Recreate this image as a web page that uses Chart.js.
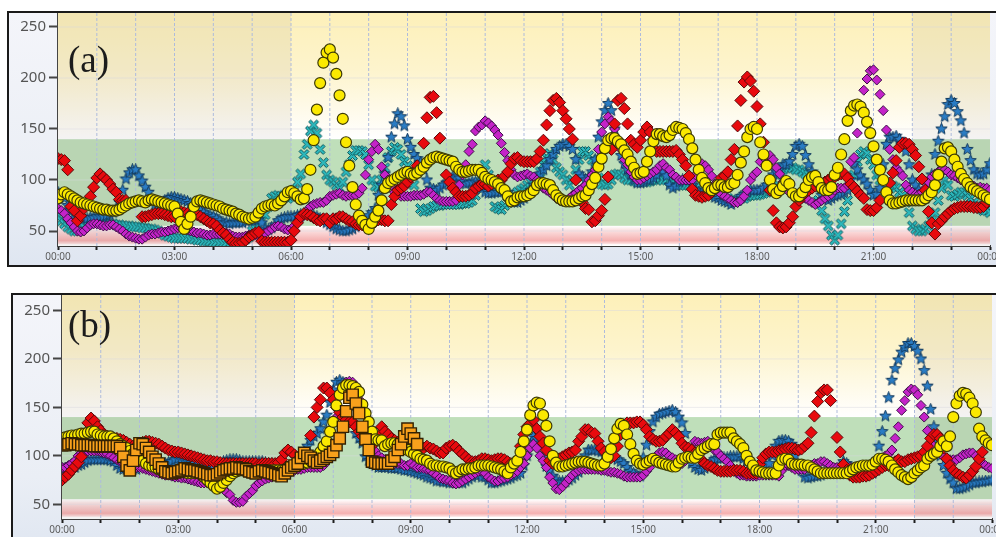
<!DOCTYPE html>
<html>
<head>
<meta charset="utf-8">
<title>Glucose traces</title>
<script src="https://cdn.jsdelivr.net/npm/chart.js@4"></script>
<style>
  html, body { margin: 0; padding: 0; width: 996px; height: 537px; overflow: hidden; background: #fff; }
  .frame { position: absolute; box-sizing: content-box; border: 2px solid #1a1a1a; overflow: hidden;
           background: linear-gradient(180deg, #f4f5fa 0%, #eaeef5 70%, #dfe6f1 100%); }
  #frameA { left: 7px; top: 11px; width: 1010px; height: 252px; }
  #frameB { left: 11px; top: 293px; width: 1006px; height: 260px; }
  canvas { position: absolute; left: 0; top: 0; filter: blur(0.45px); }
  .tag { position: absolute; font-family: "Liberation Serif", serif; font-size: 37px; color: #1c1c1c; line-height: 1; }
  #tagA { left: 68px; top: 41px; }
  #tagB { left: 68px; top: 306px; }
</style>
</head>
<body>
<div class="frame" id="frameA"><canvas id="chartA" width="1010" height="252"></canvas></div>
<div class="frame" id="frameB"><canvas id="chartB" width="1006" height="242"></canvas></div>
<div class="tag" id="tagA">(a)</div>
<div class="tag" id="tagB">(b)</div>
<script>
// one reading every 5 minutes, one row per hour, last value is 24:00
const yTicks = [50, 100, 150, 200, 250];
const xTickLabels = ['00:00', '03:00', '06:00', '09:00', '12:00', '15:00', '18:00', '21:00', '00:00'];
const minutes = Array.from({ length: 289 }, (_, i) => i * 5);

const tealA = [
  65,60,57,54,52,50,50,52,54,56,58,60,
  60,60,59,58,57,57,56,56,55,55,55,54,
  54,54,53,53,52,52,51,50,48,46,45,44,
  43,43,43,43,43,42,42,41,41,40,40,40,
  39,39,38,38,38,37,37,37,38,40,42,44,
  50,52,55,60,66,74,82,84,85,84,83,82,
  84,90,98,106,125,135,148,154,146,130,117,105,
  100,98,95,92,98,108,115,124,129,129,128,125,
  115,100,94,93,100,112,122,128,132,130,125,118,
  114,105,95,85,72,69,70,72,74,75,75,76,
  76,76,76,76,76,77,77,78,80,85,95,105,
  115,105,90,74,72,71,75,78,80,85,88,90,
  92,95,98,100,102,108,115,122,126,120,112,108,
  105,100,95,100,110,120,128,128,124,120,112,102,
  96,95,96,100,105,106,105,102,100,100,99,98,
  98,98,98,99,100,100,102,100,100,99,98,96,
  95,95,95,95,95,92,90,88,88,88,86,85,
  84,83,82,82,80,80,80,82,82,84,85,85,
  85,86,87,88,90,100,105,108,110,112,112,112,
  110,110,108,106,105,100,92,80,70,62,55,46,
  41,46,57,69,80,92,105,118,125,128,126,120,
  115,105,100,98,96,95,94,92,88,85,78,68,
  55,52,50,50,52,55,60,68,80,92,100,95,
  85,84,86,88,88,85,82,78,75,72,70,70,
  68];
const blueA = [
  88,86,82,75,70,66,64,63,62,62,63,63,
  64,64,64,65,66,68,72,78,90,101,107,110,
  110,104,99,93,88,80,76,76,78,80,82,83,
  83,82,81,80,79,77,75,72,70,68,66,65,
  64,62,60,58,58,57,58,58,58,58,60,60,
  60,61,61,58,52,51,53,56,60,62,63,64,
  64,64,65,66,67,67,66,65,64,62,60,58,
  56,54,52,51,50,50,51,52,54,56,58,60,
  65,68,72,85,95,106,122,142,155,165,162,153,
  140,132,125,121,117,110,100,92,91,90,92,95,
  97,100,103,103,102,98,96,97,98,98,97,92,
  88,87,87,88,88,88,90,88,82,78,78,80,
  82,85,90,95,102,106,110,114,120,125,130,133,
  135,135,133,130,120,106,103,100,103,108,120,142,
  157,168,175,168,150,138,124,116,110,105,100,97,
  97,98,100,100,102,105,110,108,104,95,92,94,
  98,100,100,100,95,90,88,87,87,88,85,83,
  82,80,79,78,76,78,80,84,86,88,90,90,
  90,90,92,95,98,105,108,110,115,115,118,125,
  133,135,133,124,115,108,100,95,85,82,80,82,
  84,85,86,88,90,100,116,110,104,100,96,90,
  85,86,92,115,135,142,142,143,140,136,128,115,
  100,95,90,85,82,90,105,125,138,150,162,174,
  178,175,167,158,146,130,119,110,106,105,106,110,
  116];
const purpleA = [
  72,70,67,62,58,54,50,49,50,53,56,57,
  57,56,55,55,56,56,54,52,50,47,45,44,
  43,42,42,44,46,47,47,48,49,49,50,51,
  52,53,53,52,51,50,49,48,48,47,46,46,
  47,47,47,47,48,47,45,44,44,44,45,46,
  47,46,46,47,48,50,52,54,55,54,52,51,
  52,55,58,62,66,70,74,76,77,78,78,80,
  84,85,86,87,85,84,85,85,85,87,92,105,
  120,128,135,130,113,105,100,95,88,86,84,84,
  84,84,85,85,85,86,88,88,85,82,80,79,
  79,79,79,80,95,105,115,128,135,148,152,154,
  158,156,153,149,144,136,127,119,110,105,103,104,
  105,106,104,103,100,95,92,90,88,85,82,80,
  79,79,82,85,87,90,92,95,100,105,110,130,
  147,155,162,158,150,140,130,120,115,108,103,100,
  100,102,104,106,108,110,114,116,112,110,105,103,
  100,100,100,100,100,105,110,116,114,110,104,96,
  90,86,84,82,80,78,78,80,84,90,100,105,
  108,118,122,122,124,120,112,106,98,92,88,85,
  84,83,82,82,80,78,76,78,80,82,84,86,
  90,92,92,92,95,118,122,146,170,188,199,207,
  208,198,184,168,149,130,120,112,108,104,95,90,
  88,86,86,88,92,98,103,106,108,110,110,108,
  105,104,102,100,99,97,95,94,92,93,92,92,
  90];
const redA = [
  121,120,119,110,74,70,60,65,72,78,84,93,
  102,106,103,100,96,91,88,81,80,80,null,null,
  null,null,64,64,65,66,67,67,67,66,65,64,
  64,67,69,68,67,66,66,66,64,62,60,58,
  57,55,51,48,46,42,39,38,38,39,41,44,
  46,48,49,40,39,39,39,39,39,39,39,39,
  41,50,58,64,67,66,65,63,61,60,62,62,
  58,62,62,64,64,62,60,59,57,56,56,56,
  56,58,59,61,61,60,60,76,84,90,92,94,
  98,103,108,114,null,136,161,181,182,166,141,null,
  105,98,92,88,84,84,84,85,87,92,94,96,
  96,94,96,98,100,100,104,108,116,121,122,119,
  118,118,118,118,121,128,139,154,168,178,180,176,
  168,160,150,140,100,null,78,72,71,59,60,65,
  70,81,103,130,155,178,180,170,155,139,135,132,
  139,147,152,147,140,128,128,128,128,128,128,129,
  125,120,114,104,91,85,84,83,84,85,88,92,
  96,102,104,108,120,130,153,178,196,201,197,187,
  172,155,137,115,90,70,58,54,53,54,58,64,
  74,80,85,88,90,92,94,96,96,98,100,102,
  103,105,106,106,102,96,93,89,85,82,71,70,
  70,73,80,null,88,97,107,119,132,136,136,135,
  130,124,113,101,90,69,58,47,57,60,64,67,
  70,72,73,74,74,74,74,73,73,73,74,78,
  80];
const yellowA = [
  82,86,88,86,84,82,80,78,77,76,75,74,
  73,72,71,71,70,70,70,71,73,75,77,78,
  79,80,79,78,80,81,80,79,78,77,76,75,
  74,67,59,52,57,64,74,79,80,79,78,77,
  76,75,74,72,71,70,69,67,66,64,63,62,
  63,64,68,72,74,75,76,75,77,80,84,88,
  89,87,84,81,82,91,110,139,169,195,215,225,
  228,220,204,183,160,137,114,93,76,65,60,56,
  52,58,64,70,80,92,97,99,101,103,105,107,
  108,106,105,107,110,113,117,120,122,123,122,121,
  120,119,118,113,110,108,108,109,110,110,110,107,
  103,101,100,98,96,92,90,84,79,80,83,84,
  84,85,87,90,95,97,97,96,95,90,85,82,
  80,79,79,79,80,82,84,85,90,96,102,113,
  121,131,139,141,141,138,135,129,125,118,112,106,
  107,108,118,128,138,145,145,143,142,144,149,152,
  151,150,146,140,131,120,110,102,97,92,90,92,
  95,95,93,93,96,97,105,117,128,142,150,152,
  150,137,125,114,100,91,87,90,94,99,96,87,
  84,84,88,93,100,103,104,98,92,90,90,93,
  105,112,125,140,158,168,173,174,172,166,157,146,
  133,120,110,100,88,80,77,77,78,79,80,80,
  80,80,80,80,82,85,88,95,105,118,131,132,
  128,120,113,106,101,97,93,91,89,87,85,83,
  81];

const blueB = [
  87,87,87,88,88,90,91,93,95,96,96,96,
  96,96,96,95,94,90,87,86,86,87,86,86,
  88,89,90,90,90,91,92,92,92,93,94,96,
  97,96,95,94,93,92,90,89,88,87,87,88,
  90,92,94,95,96,96,96,95,94,94,94,94,
  94,94,94,93,92,92,91,90,89,88,88,88,
  89,90,96,105,110,116,120,123,128,135,142,155,
  168,176,178,176,175,170,150,123,118,113,99,95,
  92,90,88,88,88,88,87,87,87,86,85,85,
  84,83,82,81,80,78,77,76,74,74,73,73,
  72,72,72,72,72,74,76,78,80,80,78,78,
  75,72,72,73,74,75,76,77,79,80,82,90,
  100,112,120,118,112,100,89,85,79,75,73,73,
  73,75,77,80,83,88,100,106,106,106,105,104,
  100,99,99,98,96,94,92,88,84,82,80,79,
  98,111,125,135,140,143,144,145,146,147,145,140,
  134,123,108,92,88,86,85,87,90,94,96,97,
  97,98,98,99,99,99,99,97,94,90,85,85,
  86,88,89,92,100,110,115,116,116,115,112,100,
  90,85,78,77,78,79,79,80,82,82,82,84,
  86,90,94,92,88,85,83,82,82,82,82,82,
  85,110,125,141,160,178,190,199,207,212,216,216,
  213,208,200,188,172,148,130,117,100,90,82,76,
  72,66,66,67,68,70,72,72,73,73,74,74,
  75];
const purpleB = [
  88,88,90,92,95,100,103,104,105,105,105,105,
  104,103,102,100,98,96,94,92,90,90,90,88,
  88,87,86,85,84,83,82,81,80,80,79,78,
  78,77,77,76,75,74,73,72,72,72,72,72,
  72,70,66,62,60,54,52,52,53,58,61,64,
  69,72,74,76,77,78,79,80,81,82,83,84,
  85,86,86,87,88,88,88,88,88,90,95,100,
  110,140,165,172,176,177,176,172,165,155,145,130,
  110,105,100,98,96,96,94,92,92,92,90,90,
  92,90,88,88,87,86,85,82,80,77,76,75,
  74,72,71,72,74,76,78,80,82,84,84,82,
  78,76,74,74,76,77,78,80,82,84,88,92,
  100,108,112,108,100,95,88,78,72,66,65,68,
  72,76,80,83,85,86,86,86,86,86,86,85,
  85,84,83,83,82,81,79,78,78,78,78,78,
  80,84,88,95,100,103,104,103,100,98,96,92,
  92,95,100,108,115,114,113,114,115,110,106,104,
  100,97,94,90,86,82,80,80,79,79,79,79,
  80,80,80,80,80,80,79,85,90,90,88,86,
  86,86,86,88,90,92,92,94,94,92,90,88,
  88,88,88,88,88,88,87,87,87,88,88,90,
  92,95,98,100,102,106,118,130,147,157,166,169,
  168,163,152,140,126,118,110,106,102,99,97,96,
  96,96,98,101,102,103,103,100,96,92,90,88,
  87];
const redB = [
  75,78,81,85,89,93,99,115,134,139,136,130,
  126,122,120,118,118,118,117,116,114,112,110,110,
  112,114,115,115,114,113,112,110,108,106,105,104,
  104,103,102,101,100,99,98,97,96,95,95,94,
  94,93,92,92,92,92,92,92,92,92,92,92,
  92,91,92,92,92,92,92,93,96,103,106,104,
  101,96,94,95,100,121,140,150,158,170,170,165,
  158,150,145,140,137,135,135,130,125,120,115,112,
  112,114,120,130,125,122,118,116,114,112,111,110,
  109,108,108,108,108,110,108,107,105,103,103,108,
  110,111,109,105,102,99,96,94,94,95,97,97,
  96,95,96,97,97,96,94,92,92,96,110,122,
  130,133,137,128,120,113,106,95,92,92,97,99,
  101,103,104,106,115,120,127,127,124,123,115,108,
  104,100,98,100,110,122,132,134,134,134,135,135,
  132,127,120,117,115,115,116,120,123,127,124,120,
  113,109,108,106,103,100,96,92,90,89,87,85,
  84,84,84,84,85,85,85,84,82,82,82,82,
  91,98,102,104,104,104,105,106,107,108,108,107,
  106,107,110,113,124,141,156,165,168,168,157,null,
  119,104,91,85,80,78,78,78,79,79,80,82,
  84,86,88,90,90,92,94,96,94,94,96,97,
  98,99,100,104,110,118,122,122,118,108,97,90,
  85,82,80,78,77,80,84,89,97,104,null,null,
  null];
const yellowB = [
  118,119,120,121,121,122,123,123,124,125,125,122,
  121,120,120,120,118,115,112,110,108,105,102,100,
  99,95,92,90,89,88,86,85,84,84,83,83,
  83,83,83,82,82,82,82,81,78,75,72,69,
  66,68,72,75,79,82,84,85,85,84,83,83,
  83,84,84,84,85,85,85,85,85,86,87,88,
  89,90,92,92,93,95,97,100,104,110,115,125,
  135,152,163,170,173,173,172,170,166,153,144,135,
  125,117,116,116,110,112,113,113,112,110,108,106,
  104,102,100,97,96,95,92,90,90,89,89,88,
  87,84,82,84,86,86,87,87,88,90,90,90,
  90,89,88,87,86,84,82,88,92,95,104,115,
  127,142,152,155,154,142,131,115,100,93,89,89,
  90,91,92,93,94,94,94,93,92,91,90,90,
  92,99,107,118,128,133,131,122,112,102,95,92,
  91,93,95,97,95,93,92,91,90,89,89,93,
  97,98,99,98,98,102,106,108,110,112,112,122,
  124,124,124,124,118,115,112,108,100,94,90,85,
  84,83,82,82,82,82,90,96,97,96,92,91,
  91,91,90,90,88,86,84,82,82,82,82,82,
  82,82,82,82,84,86,88,89,90,90,90,91,
  94,97,97,96,94,90,86,83,80,78,76,78,
  82,85,88,90,97,100,102,104,110,115,110,120,
  140,154,162,165,164,160,154,145,128,120,116,113,
  111];
const orangeB = [
  111,111,112,113,112,112,111,111,111,111,110,110,
  110,110,110,110,110,110,108,99,90,85,95,106,
  113,112,108,104,99,96,92,88,84,83,82,83,
  84,85,87,86,85,85,84,83,82,81,80,80,
  81,83,85,86,87,87,88,87,87,86,84,83,
  82,84,85,84,83,82,81,80,79,82,85,88,
  90,92,98,103,100,98,95,93,95,97,99,101,
  104,111,118,130,146,160,163,154,144,130,117,106,
  94,93,92,92,92,92,95,99,106,112,120,128,
  123,118,112];

const bandGreen = [55, 140];
const bandPink = [37, 55];
const nightHours = [[0, 360], [1320, 1440]];

// star and cross are not in Chart.js as filled shapes, so they go in as small canvases
function markerCanvas(size, fill, line, path) {
  const c = document.createElement('canvas');
  c.width = size; c.height = size;
  const g = c.getContext('2d');
  g.translate(size / 2, size / 2);
  g.beginPath();
  path(g);
  g.closePath();
  g.fillStyle = fill; g.fill();
  g.strokeStyle = line; g.lineWidth = 1; g.stroke();
  return c;
}
const starMarker = markerCanvas(13, '#2a7cc4', '#123a5e', g => {
  for (let i = 0; i < 10; i++) {
    const r = i % 2 ? 2.6 : 6;
    const a = -Math.PI / 2 + i * Math.PI / 5;
    g.lineTo(r * Math.cos(a), r * Math.sin(a));
  }
});
const crossMarker = markerCanvas(13, '#2cb8bc', '#12585c', g => {
  const pts = [[-5,-3],[-3,-5],[0,-2],[3,-5],[5,-3],[2,0],[5,3],[3,5],[0,2],[-3,5],[-5,3],[-2,0]];
  pts.forEach(p => g.lineTo(p[0], p[1]));
});

const markers = {
  teal: { pointStyle: crossMarker, pointRadius: 6 },
  blue: { pointStyle: starMarker, pointRadius: 6 },
  purple: { pointStyle: 'rectRot', pointRadius: 5, pointBackgroundColor: '#c423c8', pointBorderColor: '#3d1148' },
  red: { pointStyle: 'rectRot', pointRadius: 6, pointBackgroundColor: '#e80a0e', pointBorderColor: '#5a0a0a' },
  yellow: { pointStyle: 'circle', pointRadius: 5.5, pointBackgroundColor: '#fbe900', pointBorderColor: '#3c3a05', pointBorderWidth: 1.2 },
  orange: { pointStyle: 'rect', pointRadius: 8, pointBackgroundColor: '#f9a11c', pointBorderColor: '#332103', pointBorderWidth: 1.4 }
};

const zonesPlugin = {
  id: 'zones',
  beforeDatasetsDraw(chart) {
    const { ctx, chartArea: a, scales: { x, y } } = chart;
    ctx.save();
    // sky, yellow at the top fading to white at the top of the green band
    const sky = ctx.createLinearGradient(0, a.top, 0, y.getPixelForValue(bandGreen[1]));
    sky.addColorStop(0, '#fdf0b9');
    sky.addColorStop(0.45, '#fdf4cd');
    sky.addColorStop(1, '#ffffff');
    ctx.fillStyle = sky;
    ctx.fillRect(a.left, a.top, a.width, y.getPixelForValue(bandGreen[1]) - a.top);
    ctx.fillStyle = '#ffffff';
    ctx.fillRect(a.left, y.getPixelForValue(bandGreen[1]), a.width, a.bottom - y.getPixelForValue(bandGreen[1]));
    // target range
    ctx.fillStyle = '#bfdfba';
    ctx.fillRect(a.left, y.getPixelForValue(bandGreen[1]), a.width, y.getPixelForValue(bandGreen[0]) - y.getPixelForValue(bandGreen[1]));
    // low range
    const top = y.getPixelForValue(bandPink[1]), bot = y.getPixelForValue(bandPink[0]);
    const low = ctx.createLinearGradient(0, top, 0, bot);
    low.addColorStop(0, '#ffffff');
    low.addColorStop(0.25, '#fbe0e0');
    low.addColorStop(0.8, '#f5b0b0');
    low.addColorStop(1, '#fde8e8');
    ctx.fillStyle = low;
    ctx.fillRect(a.left, top, a.width, bot - top);
    // night hours sit a bit darker
    ctx.fillStyle = 'rgba(110, 105, 100, 0.08)';
    nightHours.forEach(n => {
      const l = x.getPixelForValue(n[0]), r = x.getPixelForValue(n[1]);
      ctx.fillRect(l, a.top, r - l, a.height);
    });
    ctx.restore();
    // gridlines were painted under the zones, put them back on top
    x.ticks.forEach(t => {
      if (t.value === 0 || t.value === 1440) return;
      const px = x.getPixelForValue(t.value);
      ctx.save();
      ctx.strokeStyle = '#aebbdc';
      ctx.setLineDash([3, 2]);
      ctx.beginPath(); ctx.moveTo(px, a.top); ctx.lineTo(px, a.bottom); ctx.stroke();
      ctx.restore();
    });
    yTicks.forEach(v => {
      const py = y.getPixelForValue(v);
      ctx.save();
      ctx.strokeStyle = 'rgba(215, 215, 225, 0.45)';
      ctx.beginPath(); ctx.moveTo(a.left, py); ctx.lineTo(a.right, py); ctx.stroke();
      ctx.restore();
    });
  }
};

function makeChart(id, series, yMin, yMax, leftWidth, bottomHeight, rightPad) {
  const datasets = series.map(s => Object.assign({
    data: s.values.map((v, i) => ({ x: minutes[i], y: v })),
    pointBorderWidth: 1
  }, markers[s.kind]));
  return new Chart(document.getElementById(id), {
    type: 'scatter',
    data: { datasets },
    plugins: [zonesPlugin],
    options: {
      responsive: false,
      animation: false,
      devicePixelRatio: 1,
      layout: { autoPadding: false, padding: { top: 0, right: rightPad, bottom: 0, left: 0 } },
      plugins: { legend: { display: false }, tooltip: { enabled: false } },
      scales: {
        x: {
          type: 'linear', min: 0, max: 1440,
          afterFit(s) { s.height = bottomHeight; },
          ticks: {
            stepSize: 60, autoSkip: false, maxRotation: 0, minRotation: 0, padding: 1,
            color: '#5c5c5c', font: { family: 'Noto Sans', size: 10 },
            callback: v => (v % 180 === 0 ? xTickLabels[v / 180] : '')
          },
          grid: { drawOnChartArea: false, tickLength: 4, tickColor: '#1e1e1e', tickWidth: 2 },
          border: { color: '#3a3a3a', width: 2 }
        },
        y: {
          min: yMin, max: yMax,
          afterFit(s) { s.width = leftWidth; s.paddingTop = 0; s.paddingBottom = 0; },
          afterBuildTicks(s) { s.ticks = yTicks.map(v => ({ value: v })); },
          ticks: { padding: 3, color: '#555', font: { family: 'Noto Sans', size: 15 } },
          grid: { drawOnChartArea: false, tickLength: 9, tickColor: '#444', tickWidth: 2 },
          border: { color: '#444', width: 2 }
        }
      }
    }
  });
}

// first in the list is drawn on top
makeChart('chartA', [
  { kind: 'yellow', values: yellowA },
  { kind: 'red', values: redA },
  { kind: 'purple', values: purpleA },
  { kind: 'blue', values: blueA },
  { kind: 'teal', values: tealA }
], 35.3, 263.7, 49, 19, 1019 - 990);

makeChart('chartB', [
  { kind: 'orange', values: orangeB },
  { kind: 'yellow', values: yellowB },
  { kind: 'red', values: redB },
  { kind: 'purple', values: purpleB },
  { kind: 'blue', values: blueB }
], 34.8, 266, 49, 18, 1017 - 990);
</script>
</body>
</html>
